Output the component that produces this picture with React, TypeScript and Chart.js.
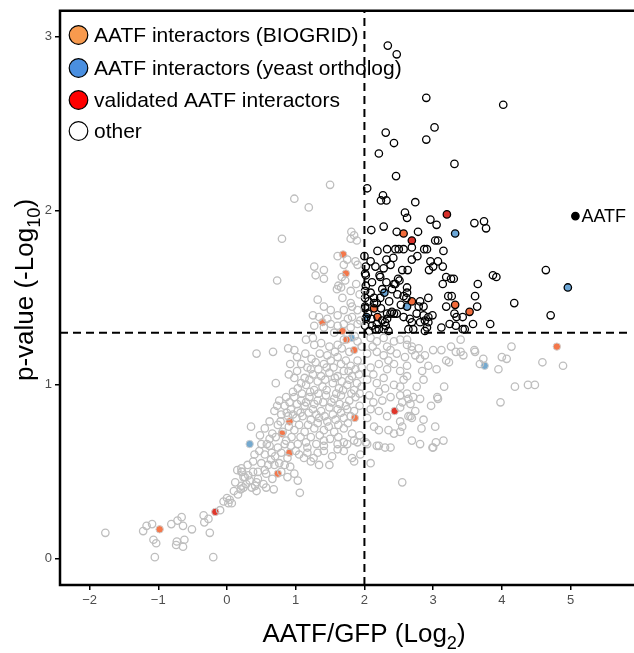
import React, { useEffect, useRef } from "react";
import { Chart, registerables } from "chart.js";
Chart.register(...registerables);

const xTicks = [-2, -1, 0, 1, 2, 3, 4, 5];
const yTicks = [0, 1, 2, 3];
const fcCutoff = 2;
const pCutoff = 1.3;

const legendLabels = [
  "AATF interactors (BIOGRID)",
  "AATF interactors (yeast ortholog)",
  "validated AATF interactors",
  "other",
];
const legendColors = ["#F79A4E", "#4A8FE0", "#FF0000", "#FFFFFF"];

// significant (x > 2, y > 1.3), uncategorised
const sigOther: number[][] = [
  [2.34, 2.95], [2.47, 2.90], [2.90, 2.65], [4.02, 2.61], [3.02, 2.48], [2.31, 2.45], [2.43, 2.39], [2.90, 2.41], [2.21, 2.33], [3.31, 2.27],
  [2.46, 2.20], [2.04, 2.13], [2.27, 2.09], [2.24, 2.06], [2.32, 2.06], [2.74, 2.05], [2.59, 1.99], [2.62, 1.96], [2.96, 1.95], [3.05, 1.92],
  [3.60, 1.93], [3.74, 1.94], [3.77, 1.90], [2.10, 1.89], [2.28, 1.91], [2.47, 1.88], [2.78, 1.88], [3.03, 1.83], [3.07, 1.83], [2.69, 1.79],
  [2.19, 1.77], [2.33, 1.78], [2.45, 1.78], [2.50, 1.78], [2.57, 1.78], [2.87, 1.78], [2.91, 1.78], [3.15, 1.77], [2.00, 1.74], [2.09, 1.71],
  [2.32, 1.72], [2.42, 1.73], [2.69, 1.72], [2.77, 1.74], [2.96, 1.71], [3.07, 1.71], [2.02, 1.68], [2.16, 1.68], [2.28, 1.67], [2.38, 1.69],
  [2.55, 1.66], [2.63, 1.66], [2.94, 1.66], [3.00, 1.68], [3.14, 1.68], [2.02, 1.63], [2.22, 1.63], [2.49, 1.61], [2.51, 1.60], [3.19, 1.62],
  [3.26, 1.61], [3.30, 1.61], [3.87, 1.63], [3.92, 1.62], [4.64, 1.66], [2.11, 1.59], [2.32, 1.59], [2.43, 1.58], [3.14, 1.58], [3.65, 1.58],
  [2.62, 1.56], [2.01, 1.54], [2.09, 1.53], [2.40, 1.55], [2.62, 1.53], [2.23, 1.50], [2.57, 1.51], [2.61, 1.50], [2.93, 1.50], [3.22, 1.51],
  [3.27, 1.51], [3.61, 1.51], [2.81, 1.48], [4.18, 1.47], [2.06, 1.48], [2.14, 1.47], [2.53, 1.46], [3.19, 1.45], [3.64, 1.45], [2.79, 1.45],
  [2.86, 1.45], [2.01, 1.44], [4.71, 1.40], [2.38, 1.41], [2.43, 1.41], [2.47, 1.41], [2.66, 1.38], [2.76, 1.41], [2.86, 1.40], [2.93, 1.39],
  [2.99, 1.40], [3.31, 1.41], [3.34, 1.39], [3.43, 1.39], [2.26, 1.37], [2.30, 1.36], [2.33, 1.38], [2.57, 1.39], [2.69, 1.36], [2.81, 1.36],
  [2.88, 1.37], [2.93, 1.36], [3.12, 1.33], [3.24, 1.35], [3.33, 1.34], [3.43, 1.32], [3.46, 1.32], [3.58, 1.35], [3.83, 1.35], [2.01, 1.34],
  [2.11, 1.34], [2.16, 1.32], [2.21, 1.32], [2.28, 1.32], [2.35, 1.31], [2.64, 1.32], [2.71, 1.32], [2.88, 1.31], [2.91, 1.33],
  [2.01, 1.64], [2.02, 1.57], [2.01, 1.50], [2.01, 1.45], [2.02, 1.38], [2.18, 1.35], [2.33, 1.41], [2.40, 1.42], [2.45, 1.58], [2.23, 1.62],
  [2.14, 1.50], [2.18, 1.47], [2.05, 1.41], [2.10, 1.38], [2.24, 1.44], [2.07, 1.31], [2.26, 1.55], [2.36, 1.48], [2.48, 1.52], [2.31, 1.34],
];
const sigBiogrid: number[][] = [[2.57, 1.87], [2.69, 1.48], [3.32, 1.46], [2.14, 1.44], [3.53, 1.42], [2.19, 1.39]];
const sigYeast: number[][] = [[3.32, 1.87], [4.96, 1.56], [2.29, 1.53], [2.62, 1.45], [2.03, 1.39]];
const sigValidated: number[][] = [[3.20, 1.98], [2.69, 1.83]];

// non-significant, uncategorised
const nsOther: number[][] = [
  [0.35, 0.76], [-1.77, 0.15], [-1.22, 0.16], [-1.17, 0.19], [-1.09, 0.20], [-1.07, 0.11], [-1.03, 0.09], [-1.05, 0.01], [-0.81, 0.20], [-0.72, 0.22],
  [-0.66, 0.24], [-0.64, 0.19], [-0.73, 0.10], [-0.74, 0.08], [-0.64, 0.07], [-0.62, 0.11], [-0.51, 0.17], [-0.34, 0.25], [-0.27, 0.23], [-0.33, 0.21],
  [-0.25, 0.15], [-0.20, 0.01], [-0.10, 0.28], [0.00, 0.35], [0.04, 0.34], [0.07, 0.32], [0.02, 0.32], [0.16, 0.37], [0.20, 0.40], [0.24, 0.41],
  [0.28, 0.43], [0.15, 0.51], [0.22, 0.50], [0.24, 0.47], [0.33, 0.45], [0.41, 0.42], [0.43, 0.39], [0.36, 0.41],
  [0.50, 0.66], [0.62, 0.65], [0.74, 0.64], [0.84, 0.66], [0.93, 0.65], [1.03, 0.66], [1.17, 0.64], [1.30, 0.66], [1.41, 0.65],
  [0.55, 0.60], [0.65, 0.61], [0.79, 0.61], [1.05, 0.60], [1.17, 0.61], [1.32, 0.61], [1.41, 0.62], [1.53, 0.59], [1.61, 0.63], [1.70, 0.62],
  [1.82, 0.58], [1.85, 0.56], [1.94, 0.60], [2.09, 0.55], [0.50, 0.55], [0.60, 0.54], [0.69, 0.54], [0.76, 0.55], [1.22, 0.56], [1.34, 0.54],
  [1.49, 0.54], [0.45, 0.50], [0.57, 0.49], [0.79, 0.50], [0.98, 0.49], [1.03, 0.45], [0.21, 0.50], [0.26, 0.47], [0.43, 0.44], [0.53, 0.43],
  [0.21, 0.42], [0.57, 0.41], [0.68, 0.40], [1.06, 0.38], [2.55, 0.44], [2.81, 0.66], [3.00, 0.64], [2.69, 0.68],
  [1.61, 0.66], [1.75, 0.66], [1.90, 0.67], [2.04, 0.66], [2.18, 0.65], [2.30, 0.64], [2.38, 0.64],
  [0.43, 1.18], [0.67, 1.19], [0.89, 1.21], [0.98, 1.20], [1.15, 1.26], [1.25, 1.27], [1.37, 1.24], [1.49, 1.22], [1.61, 1.23], [1.70, 1.26],
  [1.90, 1.25], [1.27, 1.23], [0.92, 1.12], [0.90, 1.06], [0.98, 1.04], [0.71, 1.01], [1.08, 1.12], [1.17, 1.10], [1.29, 1.13], [1.41, 1.12],
  [1.51, 1.14], [1.61, 1.16], [1.73, 1.14], [1.80, 1.11], [1.90, 1.14], [1.13, 1.04], [1.25, 1.06], [1.37, 1.05], [1.49, 1.07], [1.61, 1.05],
  [1.70, 1.08], [1.82, 1.05], [1.92, 1.06], [1.03, 0.98], [1.15, 1.00], [1.27, 0.97], [1.39, 0.99], [1.54, 1.01], [1.63, 0.98], [1.75, 1.00],
  [1.85, 0.97], [0.98, 0.93], [1.08, 0.91], [1.20, 0.93], [1.32, 0.91], [1.44, 0.94], [1.56, 0.92], [1.66, 0.94], [1.78, 0.91], [1.87, 0.93],
  [0.76, 0.91], [0.84, 0.88], [0.91, 0.90], [0.93, 0.86], [1.03, 0.85], [1.13, 0.88], [1.25, 0.86], [1.37, 0.85], [1.49, 0.87], [1.61, 0.86],
  [1.73, 0.88], [1.85, 0.85], [0.69, 0.85], [0.79, 0.83], [0.89, 0.82], [1.01, 0.81], [1.10, 0.82], [1.22, 0.80], [1.34, 0.81], [1.46, 0.79],
  [1.58, 0.80], [1.70, 0.81], [0.55, 0.75], [0.74, 0.77], [0.81, 0.73], [0.98, 0.74], [1.13, 0.73], [1.27, 0.75], [1.41, 0.74], [1.56, 0.73],
  [1.70, 0.75], [1.82, 0.72], [0.62, 0.69], [0.86, 0.68], [1.15, 0.67], [1.41, 0.68], [1.70, 0.67], [1.85, 0.68], [0.21, 0.52], [0.38, 0.50],
  [0.55, 0.51], [0.45, 0.46],
  [1.02, 1.16], [1.14, 1.18], [1.23, 1.15], [1.35, 1.18], [1.46, 1.17], [1.57, 1.19], [1.67, 1.21], [1.78, 1.19], [1.86, 1.28], [1.96, 1.22],
  [1.02, 1.08], [1.22, 1.09], [1.33, 1.09], [1.45, 1.10], [1.55, 1.10], [1.66, 1.12], [1.77, 1.08], [1.87, 1.09], [1.96, 1.10],
  [1.08, 1.01], [1.20, 1.03], [1.32, 1.02], [1.43, 1.03], [1.57, 1.04], [1.67, 1.02], [1.78, 1.03], [1.89, 1.01], [1.96, 0.99],
  [0.96, 0.96], [1.09, 0.95], [1.21, 0.96], [1.33, 0.95], [1.45, 0.97], [1.59, 0.95], [1.69, 0.97], [1.81, 0.95], [1.93, 0.95],
  [0.86, 0.93], [1.02, 0.89], [1.15, 0.90], [1.27, 0.89], [1.40, 0.90], [1.52, 0.90], [1.64, 0.89], [1.75, 0.86], [1.93, 0.88],
  [0.73, 0.88], [0.87, 0.84], [0.96, 0.83], [1.07, 0.84], [1.19, 0.84], [1.30, 0.83], [1.42, 0.82], [1.54, 0.83], [1.66, 0.84], [1.80, 0.82],
  [0.62, 0.79], [0.66, 0.72], [0.78, 0.79], [0.90, 0.76], [1.05, 0.77], [1.18, 0.77], [1.32, 0.78], [1.48, 0.76], [1.62, 0.77], [1.76, 0.78],
  [0.48, 0.71], [0.58, 0.66], [0.71, 0.70], [0.94, 0.70], [1.07, 0.70], [1.22, 0.70], [1.35, 0.71], [1.50, 0.69], [1.62, 0.70], [1.93, 0.71],
  [0.40, 0.60], [0.47, 0.62], [0.70, 0.59], [0.88, 0.58], [1.00, 0.62], [1.12, 0.58], [1.26, 0.58], [0.30, 0.54], [0.38, 0.56], [0.64, 0.57],
  [0.84, 0.54], [0.92, 0.53], [0.31, 0.48], [0.12, 0.44], [0.10, 0.39], [-0.05, 0.33], [0.66, 0.46], [0.88, 0.47],
  [2.09, 1.27], [2.18, 1.25], [2.28, 1.27], [2.43, 1.25], [2.52, 1.26], [2.62, 1.23], [2.04, 1.18], [2.18, 1.19], [2.28, 1.17], [2.38, 1.20],
  [2.47, 1.18], [2.59, 1.16], [2.69, 1.20], [2.09, 1.10], [2.21, 1.12], [2.33, 1.09], [2.43, 1.12], [2.52, 1.08], [2.62, 1.11], [2.04, 1.03],
  [2.18, 1.01], [2.28, 1.04], [2.43, 1.00], [2.57, 1.03], [2.62, 1.05], [2.07, 0.94], [2.21, 0.96], [2.26, 0.91], [2.38, 0.93], [2.52, 0.94],
  [2.64, 0.92], [2.09, 0.86], [2.21, 0.85], [2.33, 0.82], [2.52, 0.87], [2.64, 0.82], [2.04, 0.81], [2.14, 0.76], [2.21, 0.74], [2.35, 0.74],
  [2.43, 0.72], [2.55, 0.76], [2.02, 0.67], [2.21, 0.65], [2.12, 1.22], [2.33, 1.22], [2.13, 1.06], [2.35, 1.14], [2.13, 0.90], [2.30, 0.98],
  [4.59, 1.13], [4.89, 1.11], [3.73, 1.15], [3.68, 1.12], [4.14, 1.22], [4.00, 1.16], [4.07, 1.15], [3.95, 1.09], [4.19, 0.99], [4.38, 1.00],
  [4.48, 1.00], [3.98, 0.90], [3.40, 1.26], [3.26, 1.22], [3.33, 1.19], [3.40, 1.19], [3.44, 1.17], [3.60, 1.20], [3.61, 1.19],
  [3.00, 1.20], [3.12, 1.20], [3.19, 1.14], [3.23, 1.13], [3.05, 1.09], [3.16, 0.99], [3.06, 0.93], [3.07, 0.92], [2.97, 0.88], [3.03, 0.76],
  [3.15, 0.68], [3.04, 0.67], [2.99, 0.64], [2.83, 0.75], [2.86, 0.80], [2.62, 1.26], [2.69, 1.22], [2.79, 1.21], [2.74, 1.17], [2.81, 1.15],
  [2.88, 1.17], [2.93, 1.11], [2.84, 1.08], [2.86, 1.03], [2.76, 0.99], [2.62, 0.95], [2.71, 0.93], [2.81, 0.92], [2.52, 0.99], [2.55, 0.90],
  [2.67, 0.89], [2.74, 0.85], [2.69, 0.81], [2.52, 0.79], [2.52, 0.73], [2.67, 0.82],
  [1.50, 2.15], [0.98, 2.07], [1.19, 2.02], [0.80, 1.84], [0.73, 1.60], [1.81, 1.88], [1.85, 1.86], [1.89, 1.83], [1.80, 1.84],
  [1.61, 1.74], [1.75, 1.72], [1.87, 1.71], [1.70, 1.69], [1.27, 1.68], [1.41, 1.66], [1.29, 1.63], [1.41, 1.61], [1.67, 1.62], [1.62, 1.57],
  [1.60, 1.55], [1.66, 1.56], [1.80, 1.54], [1.68, 1.50], [1.80, 1.47], [1.32, 1.49], [1.41, 1.45], [1.25, 1.40], [1.34, 1.39], [1.51, 1.43],
  [1.61, 1.40], [1.70, 1.43], [1.82, 1.45], [1.90, 1.43], [1.82, 1.39], [1.94, 1.37], [1.27, 1.34], [1.41, 1.33], [1.51, 1.35], [1.61, 1.34],
  [1.70, 1.35], [1.80, 1.33], [1.90, 1.35], [1.90, 1.69], [1.72, 1.60], [1.88, 1.58], [1.93, 1.52], [1.76, 1.38], [1.46, 1.38], [1.56, 1.30],
];
const nsBiogrid: number[][] = [
  [-0.98, 0.17], [0.91, 0.61], [0.74, 0.49], [0.91, 0.79], [1.86, 0.81], [0.80, 0.72], [1.85, 1.20], [1.68, 1.31], [1.69, 1.75], [1.73, 1.64],
  [1.39, 1.36], [1.74, 1.26], [4.80, 1.22],
];
const nsYeast: number[][] = [[0.33, 0.66], [1.81, 1.27], [3.75, 1.11]];
const nsValidated: number[][] = [[-0.17, 0.27], [2.44, 0.85]];
const aatfPoint: number[][] = [[5.07, 1.97]];
const aatfLabel = "AATF";

const FONT = "'Liberation Sans', Arial, Helvetica, sans-serif";

function drawSubText(ctx: CanvasRenderingContext2D, main: string, sub: string, tail: string, size: number) {
  ctx.font = `${size}px ${FONT}`;
  const w1 = ctx.measureText(main).width;
  const w3 = ctx.measureText(tail).width;
  const subSize = size * 0.7;
  ctx.font = `${subSize}px ${FONT}`;
  const w2 = ctx.measureText(sub).width;
  const total = w1 + w2 + w3;
  let x = -total / 2;
  ctx.textAlign = "left";
  ctx.textBaseline = "alphabetic";
  ctx.font = `${size}px ${FONT}`;
  ctx.fillText(main, x, 0);
  x += w1;
  ctx.font = `${subSize}px ${FONT}`;
  ctx.fillText(sub, x, size * 0.28);
  x += w2;
  ctx.font = `${size}px ${FONT}`;
  ctx.fillText(tail, x, 0);
}

const decor = {
  id: "decor",
  afterDatasetsDraw(chart: any) {
    const { ctx, chartArea, scales } = chart;
    const { left, right, top, bottom } = chartArea;
    ctx.save();
    ctx.strokeStyle = "#000";
    ctx.lineWidth = 2;
    ctx.setLineDash([8, 5]);
    const vx = scales.x.getPixelForValue(fcCutoff);
    ctx.beginPath();
    ctx.moveTo(vx, bottom);
    ctx.lineTo(vx, top);
    ctx.stroke();
    const hy = scales.y.getPixelForValue(pCutoff);
    ctx.beginPath();
    ctx.moveTo(left, hy);
    ctx.lineTo(right, hy);
    ctx.stroke();
    ctx.setLineDash([]);
    ctx.lineWidth = 2.5;
    ctx.beginPath();
    ctx.moveTo(right + 5, top);
    ctx.lineTo(left, top);
    ctx.lineTo(left, bottom);
    ctx.lineTo(right + 5, bottom);
    ctx.stroke();
    const ly = [35, 68, 100, 131];
    legendLabels.forEach((lab, i) => {
      ctx.beginPath();
      ctx.arc(78.5, ly[i], 9.3, 0, Math.PI * 2);
      ctx.fillStyle = legendColors[i];
      ctx.fill();
      ctx.lineWidth = 1.2;
      ctx.strokeStyle = "#000";
      ctx.stroke();
      ctx.fillStyle = "#000";
      ctx.font = `21px ${FONT}`;
      ctx.textAlign = "left";
      ctx.textBaseline = "middle";
      ctx.fillText(lab, 94, ly[i] + 1);
    });
    const ap = aatfPoint[0];
    ctx.font = `18px ${FONT}`;
    ctx.textAlign = "left";
    ctx.textBaseline = "middle";
    ctx.fillStyle = "#000";
    ctx.fillText(aatfLabel, scales.x.getPixelForValue(ap[0]) + 6, scales.y.getPixelForValue(ap[1]) + 1);
    ctx.fillStyle = "#000";
    ctx.save();
    ctx.translate(364, 642);
    drawSubText(ctx, "AATF/GFP (Log", "2", ")", 26);
    ctx.restore();
    ctx.save();
    ctx.translate(33, 290);
    ctx.rotate(-Math.PI / 2);
    drawSubText(ctx, "p-value (-Log", "10", ")", 26);
    ctx.restore();
    ctx.restore();
  },
};

const toPts = (a: number[][]) => a.map(([x, y]) => ({ x, y }));

export default function App() {
  const ref = useRef<HTMLCanvasElement>(null);
  useEffect(() => {
    if (!ref.current) return;
    const grey = "#BEBEBE";
    const base = { pointRadius: 3.7, pointHoverRadius: 3.7, borderWidth: 1.3 };
    const tickCfg = {
      font: { family: FONT, size: 13 },
      color: "#4D4D4D",
      padding: 3,
      callback: (v: any) => String(v).replace("-", "\u2212"),
    };
    const chart = new Chart(ref.current, {
      type: "scatter",
      data: {
        datasets: [
          { ...base, data: toPts(nsOther), borderColor: grey, backgroundColor: "rgba(0,0,0,0)" },
          { ...base, data: toPts(nsBiogrid), borderColor: "#CFCFCF", backgroundColor: "#F4774A", borderWidth: 1 },
          { ...base, data: toPts(nsYeast), borderColor: "#CFCFCF", backgroundColor: "#74A9CF", borderWidth: 1 },
          { ...base, data: toPts(nsValidated), borderColor: "#CFCFCF", backgroundColor: "#E0352A", borderWidth: 1 },
          { ...base, data: toPts(sigOther), borderColor: "#000", backgroundColor: "rgba(0,0,0,0)" },
          { ...base, data: toPts(sigBiogrid), borderColor: "#000", backgroundColor: "#F26B3A" },
          { ...base, data: toPts(sigYeast), borderColor: "#000", backgroundColor: "#6BA6D6" },
          { ...base, data: toPts(sigValidated), borderColor: "#000", backgroundColor: "#D7302A" },
          { ...base, data: toPts(aatfPoint), borderColor: "#000", backgroundColor: "#000" },
        ],
      },
      options: {
        responsive: false,
        animation: false,
        events: [],
        layout: { padding: { top: 10, left: 0, right: 0, bottom: 0 } },
        plugins: { legend: { display: false }, tooltip: { enabled: false } },
        scales: {
          x: {
            type: "linear",
            min: -2.43,
            max: 5.85,
            afterBuildTicks: (s: any) => {
              s.ticks = xTicks.map((v) => ({ value: v }));
            },
            afterFit: (s: any) => {
              s.height = 68;
            },
            grid: { drawOnChartArea: false, drawTicks: true, tickLength: 5, color: "#000", lineWidth: 1.5 },
            border: { display: false },
            ticks: tickCfg,
          },
          y: {
            type: "linear",
            min: -0.15,
            max: 3.15,
            afterBuildTicks: (s: any) => {
              s.ticks = yTicks.map((v) => ({ value: v }));
            },
            afterFit: (s: any) => {
              s.width = 60;
            },
            grid: { drawOnChartArea: false, drawTicks: true, tickLength: 5, color: "#000", lineWidth: 1.5 },
            border: { display: false },
            ticks: tickCfg,
          },
        },
      },
      plugins: [decor],
    } as any);
    return () => chart.destroy();
  }, []);
  return (
    <div style={{ position: "fixed", left: 0, top: 0, width: 634, height: 653, background: "#fff" }}>
      <canvas ref={ref} width={634} height={653} style={{ display: "block" }} />
    </div>
  );
}
